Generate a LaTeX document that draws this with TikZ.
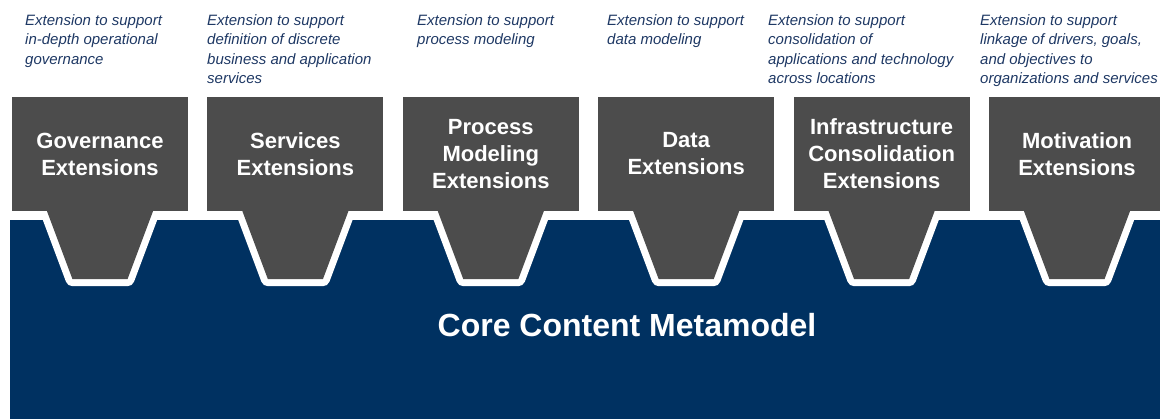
\documentclass[tikz,border=0pt]{standalone}
\usepackage{fontspec}
\setmainfont{Liberation Sans}
\usetikzlibrary{positioning,backgrounds}
\definecolor{coreblue}{RGB}{0,49,97}
\definecolor{extgray}{RGB}{76,76,76}
\definecolor{notecolor}{RGB}{30,56,100}

\begin{document}
\begin{tikzpicture}[x=1pt,y=-1pt,node distance=19pt,
	ext node/.style={fill=extgray,text=white,minimum width=176,minimum height=114,inner sep=0pt,align=center,font=\fontsize{22}{27}\selectfont\bfseries},
	note/.style={anchor=north west,inner sep=0pt,align=left,text=notecolor,font=\fontsize{15}{19.5}\selectfont\itshape},
	tab/.style={fill=extgray,preaction={draw=white,line width=14,line join=round}}]
	\useasboundingbox (0,0) rectangle (1160,419);
	\node[ext node] (1) at (100,154) {Governance\\Extensions};
	\node[ext node,right=of 1] (2) {Services\\Extensions};
	\node[ext node,right=of 2] (3) {Process\\Modeling\\Extensions};
	\node[ext node,right=of 3] (4) {Data\\Extensions};
	\node[ext node,right=of 4] (5) {Infrastructure\\Consolidation\\Extensions};
	\node[ext node,right=of 5] (6) {Motivation\\Extensions};
	\node[note] (n1) at (25,14) {Extension to support\\in-depth operational\\governance};
	\node[note] (n2) at (207,14) {Extension to support\\definition of discrete\\business and application\\services};
	\node[note] (n3) at (417,14) {Extension to support\\process modeling};
	\node[note] (n4) at (607,14) {Extension to support\\data modeling};
	\node[note] (n5) at (768,14) {Extension to support\\consolidation of\\applications and technology\\across locations};
	\node[note] (n6) at (980,14) {Extension to support\\linkage of drivers, goals,\\and objectives to\\organizations and services};
	\node[text=white,font=\fontsize{32}{38}\selectfont\bfseries] (core) at (627,325) {Core Content Metamodel};
	\begin{pgfonlayer}{background}
		\fill[coreblue] (10,220) rectangle (1160,419);
		\foreach \n in {1,...,6}
		\path[tab] ([shift={(-53,-10)}]\n.south) -- ++(0,10) -- ++(25.5,68) -- ++(55,0) -- ++(25.5,-68) -- ++(0,-10) -- cycle;
	\end{pgfonlayer}
\end{tikzpicture}
\end{document}
